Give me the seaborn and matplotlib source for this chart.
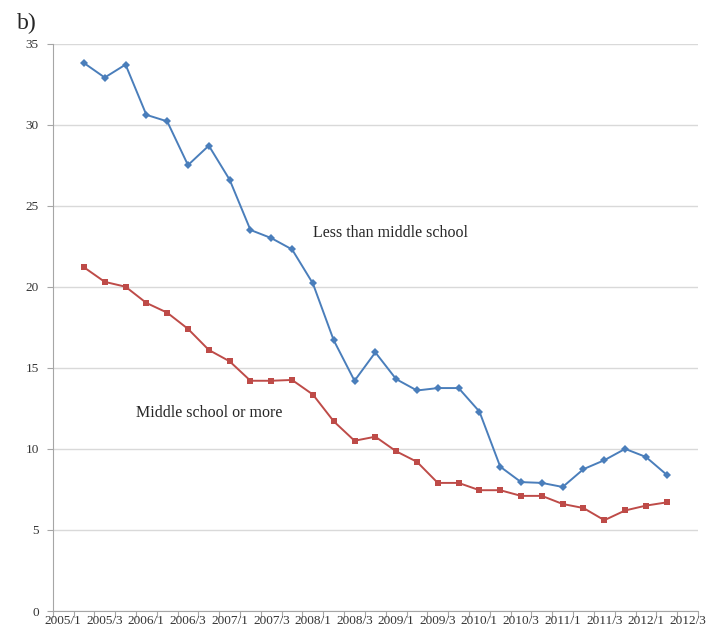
import numpy as np
import pandas as pd
import seaborn as sns
import matplotlib.pyplot as plt

# quarters 2005/1 .. 2012/3 (category axis)
quarters = [f"{y}/{q}" for y in range(2005, 2013) for q in range(1, 5)][:31]

# data run 2005/2 .. 2012/2
data_quarters = quarters[1:30]
less_than_middle = [33.8, 32.9, 33.7, 30.6, 30.2, 27.5, 28.7, 26.6, 23.5, 23.0,
                    22.3, 20.2, 16.7, 14.2, 15.95, 14.3, 13.6, 13.75, 13.75, 12.3,
                    8.9, 7.95, 7.9, 7.65, 8.75, 9.3, 10.0, 9.5, 8.4]
middle_or_more = [21.2, 20.3, 20.0, 19.0, 18.4, 17.4, 16.1, 15.4, 14.2, 14.2,
                  14.25, 13.35, 11.7, 10.5, 10.75, 9.85, 9.2, 7.9, 7.9, 7.45,
                  7.45, 7.1, 7.1, 6.6, 6.35, 5.6, 6.2, 6.5, 6.7]

df = pd.DataFrame({
    "pos": [quarters.index(q) for q in data_quarters],
    "less": less_than_middle,
    "more": middle_or_more,
})

sns.set_style("white")
plt.rcParams["font.family"] = ["Liberation Serif", "DejaVu Serif"]

fig = plt.figure(figsize=(7.11, 6.36), dpi=100)
ax = fig.add_axes([0.0741, 0.0393, 0.9076, 0.8923])

sns.lineplot(data=df, x="pos", y="less", ax=ax, color="#4A7EBB", marker="D",
             markersize=4.5, markeredgewidth=0, linewidth=1.4)
sns.lineplot(data=df, x="pos", y="more", ax=ax, color="#BE4B48", marker="s",
             markersize=4.5, markeredgewidth=0, linewidth=1.4)

ax.set_xlim(-0.5, len(quarters) - 0.5)
ax.set_ylim(0, 35)
ax.set_yticks(range(0, 36, 5))
ax.yaxis.grid(True, color="#D9D9D9", linewidth=1)
ax.set_axisbelow(True)

# ticks between categories, labels on every second category
ax.set_xticks(np.arange(-0.5, len(quarters), 1.0))
ax.set_xticklabels([])
ax.set_xticks(range(0, len(quarters), 2), minor=True)
ax.set_xticklabels(quarters[::2], minor=True)
ax.tick_params(axis="x", which="major", length=4, width=0.8, color="#A6A6A6", direction="out")
ax.tick_params(axis="x", which="minor", length=0, labelsize=9.5, labelcolor="#333333", pad=3)
ax.tick_params(axis="y", length=4, width=0.8, color="#A6A6A6", direction="out",
               labelsize=9.5, labelcolor="#333333", pad=6)
ax.tick_params(bottom=True, left=True)

for side in ["top", "right"]:
    ax.spines[side].set_visible(False)
for side in ["left", "bottom"]:
    ax.spines[side].set_color("#A6A6A6")
    ax.spines[side].set_linewidth(0.8)

ax.set_xlabel("")
ax.set_ylabel("")

ax.text(12.0, 23.3, "Less than middle school", fontsize=11.5, va="center", ha="left")
ax.text(3.5, 12.2, "Middle school or more", fontsize=11.5, va="center", ha="left")

fig.text(0.024, 0.963, "b)", fontsize=17, va="center", ha="left")

fig.savefig("out.png", dpi=100)
